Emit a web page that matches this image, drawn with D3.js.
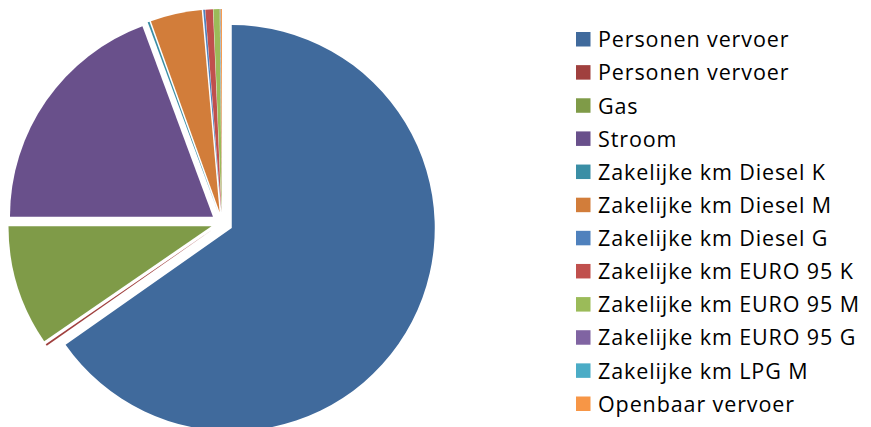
<!DOCTYPE html>
<html>
<head>
<meta charset="utf-8">
<script src="https://cdn.jsdelivr.net/npm/d3@7"></script>
<style>
  html, body { margin: 0; padding: 0; background: #fff; }
  svg { display: block; }
</style>
</head>
<body>
<svg id="chart" width="871" height="427"></svg>
<script>
const categories = [
  "Personen vervoer", "Personen vervoer", "Gas", "Stroom",
  "Zakelijke km Diesel K", "Zakelijke km Diesel M", "Zakelijke km Diesel G",
  "Zakelijke km EURO 95 K", "Zakelijke km EURO 95 M", "Zakelijke km EURO 95 G",
  "Zakelijke km LPG M", "Openbaar vervoer"
];
const values = [65.4, 0.15, 9.6, 19.4, 0.15, 4.1, 0.15, 0.6, 0.5, 0.03, 0.03, 0.1];
const colors = [
  "#406A9C", "#A0403E", "#7F9B48", "#69508B", "#3A8EA5", "#D27D3A",
  "#4F81BD", "#C0504D", "#9BBB59", "#8064A2", "#4BACC6", "#F79646"
];

const svg = d3.select("#chart");
const cx = 222, cy = 223, r = 203, explode = 11;

const pie = d3.pie().sort(null).value(d => d.v).startAngle(0).endAngle(2 * Math.PI);
const arcs = pie(values.map((v, i) => ({ v, i })));
const arc = d3.arc().innerRadius(0).outerRadius(r);

const g = svg.append("g").attr("transform", `translate(${cx},${cy})`);
g.selectAll("path")
  .data(arcs)
  .join("path")
  .attr("d", arc)
  .attr("fill", d => colors[d.data.i])
  .attr("transform", d => {
    const a = (d.startAngle + d.endAngle) / 2;
    return `translate(${explode * Math.sin(a)},${-explode * Math.cos(a)})`;
  });

// Legend
const legendY = d3.scalePoint().domain(d3.range(categories.length)).range([39.5, 404]);
const lg = svg.append("g");
const items = lg.selectAll("g")
  .data(categories)
  .join("g")
  .attr("transform", (d, i) => `translate(576,${legendY(i)})`);
items.append("rect")
  .attr("x", 0).attr("y", -7.5).attr("width", 14.5).attr("height", 14.5)
  .attr("fill", (d, i) => colors[i]);
const texts = items.append("text")
  .attr("x", 22).attr("y", 0).attr("dy", "0.36em")
  .attr("font-family", "'Open Sans', sans-serif")
  .attr("font-size", 21.5)
  .attr("fill", "#000")
  .text(d => d);
// adjust spacing so the longest label spans the same width as in the reference
const longest = texts.nodes()[8];
const w = longest.getComputedTextLength();
const ls = Math.max(0, (262 - w) / (categories[8].length));
texts.attr("letter-spacing", ls.toFixed(2));
</script>
</body>
</html>
